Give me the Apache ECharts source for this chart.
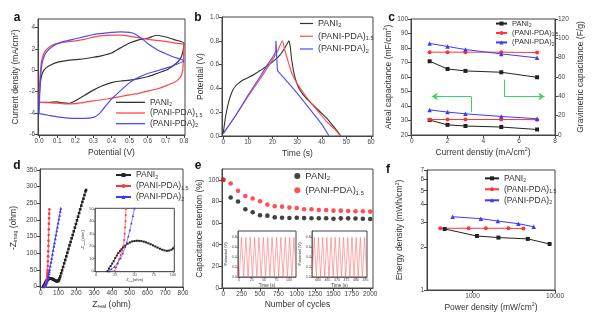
<!DOCTYPE html>
<html>
<head>
<meta charset="utf-8">
<script src="https://cdn.jsdelivr.net/npm/echarts@6/dist/echarts.min.js"></script>
<style>
html,body{margin:0;padding:0;background:#fff;}
#chart{width:594px;height:325px;}
</style>
</head>
<body>
<div id="chart"></div>
<script>
const FONT = '"Liberation Sans", Arial, sans-serif';

// ---- (a) cyclic voltammograms: [potential V, current density mA/cm2]
const cvPani2 = [[0.0,-3.0],[0.003,-1.8],[0.01,-0.8],[0.02,-0.2],[0.04,0.25],[0.07,0.55],[0.1,0.75],[0.15,0.9],[0.2,1.0],[0.25,1.08],[0.3,1.22],[0.35,1.38],[0.4,1.62],[0.45,2.1],[0.5,2.55],[0.55,2.85],[0.6,3.0],[0.65,3.28],[0.7,3.12],[0.75,2.85],[0.8,2.55],
  [0.795,1.8],[0.785,1.25],[0.77,0.85],[0.75,0.55],[0.72,0.2],[0.7,0.0],[0.65,-0.3],[0.6,-0.6],[0.55,-0.78],[0.5,-0.92],[0.45,-1.0],[0.4,-1.15],[0.35,-1.45],[0.3,-1.85],[0.25,-2.35],[0.2,-2.85],[0.17,-3.08],[0.13,-3.05],[0.1,-2.95],[0.05,-3.0],[0.0,-3.0]];
const cvPdaA = [[0.0,-3.0],[0.003,-1.5],[0.008,0.0],[0.015,1.0],[0.03,1.7],[0.05,2.1],[0.08,2.4],[0.1,2.5],[0.15,2.65],[0.2,2.75],[0.25,2.9],[0.3,3.1],[0.35,3.25],[0.4,3.3],[0.45,3.3],[0.5,3.2],[0.55,3.05],[0.6,2.9],[0.65,2.8],[0.7,2.7],[0.75,2.55],[0.8,2.4],
  [0.798,1.2],[0.793,0.0],[0.785,-0.5],[0.77,-0.85],[0.75,-1.1],[0.7,-1.45],[0.65,-1.75],[0.6,-1.95],[0.55,-2.15],[0.5,-2.3],[0.45,-2.45],[0.4,-2.6],[0.35,-2.75],[0.3,-2.85],[0.25,-3.0],[0.2,-3.12],[0.15,-3.15],[0.1,-3.08],[0.05,-3.02],[0.0,-3.0]];
const cvPdaB = [[0.0,-4.05],[0.003,-2.5],[0.008,-0.8],[0.015,0.5],[0.03,1.4],[0.05,1.9],[0.08,2.3],[0.1,2.5],[0.15,2.75],[0.2,2.95],[0.25,3.15],[0.3,3.35],[0.35,3.45],[0.4,3.55],[0.45,3.6],[0.5,3.55],[0.53,3.4],[0.56,3.05],[0.58,2.8],[0.6,2.5],[0.65,1.95],[0.7,1.55],[0.75,1.2],[0.8,0.9],
  [0.75,0.5],[0.7,0.2],[0.65,-0.05],[0.6,-0.3],[0.55,-0.65],[0.5,-1.15],[0.45,-1.9],[0.4,-2.7],[0.36,-3.5],[0.33,-4.1],[0.3,-4.4],[0.25,-4.5],[0.2,-4.5],[0.15,-4.45],[0.1,-4.35],[0.05,-4.2],[0.0,-4.05]];

// ---- (b) galvanostatic charge/discharge: [time s, potential V]
const gcdPani2 = [[0,0.02],[0.5,0.1],[1,0.17],[2,0.27],[3,0.34],[4,0.39],[5,0.42],[6,0.44],[8,0.47],[10,0.49],[12,0.51],[15,0.55],[18,0.59],[21,0.64],[23,0.68],[25,0.74],[26.7,0.8],[27.2,0.75],[27.8,0.64],[28.5,0.55],[29.3,0.48],[30.5,0.41],[32,0.36],[34,0.31],[36,0.27],[38,0.23],[40,0.19],[42,0.15],[44,0.1],[46,0.05],[47.7,0.0]];
const gcdPdaA = [[0,0.02],[2,0.08],[5,0.17],[10,0.33],[15,0.48],[20,0.64],[22,0.71],[24,0.8],[25,0.72],[26,0.65],[27,0.58],[28,0.52],[30,0.44],[32,0.38],[34,0.32],[36,0.27],[38,0.22],[40,0.17],[42,0.12],[44,0.08],[46,0.04],[47.5,0.0]];
const gcdPdaB = [[0,0.02],[2,0.08],[5,0.17],[10,0.34],[15,0.5],[18,0.6],[20.3,0.67],[21.3,0.71],[21.4,0.8],[21.9,0.8],[22.0,0.55],[25,0.48],[30,0.36],[35,0.23],[40,0.1],[43,0.0]];

// ---- (c) rate capability
const currentDensity = [1, 2, 3, 5, 7];
const arealPani2 = [30.3, 27.0, 26.2, 25.5, 23.8];
const arealPdaA = [30.7, 30.7, 30.7, 30.7, 30.6];
const arealPdaB = [37.3, 35.8, 34.6, 32.8, 31.2];
const gravPani2 = [76.3, 68.3, 66.3, 64.9, 59.7];
const gravPdaA = [85.7, 85.7, 85.7, 85.7, 85.3];
const gravPdaB = [94.7, 91.6, 88.4, 83.9, 79.8];
// axis-pointing arrows, in (current density, areal capacitance) units
const arrowShafts = [[[3.31, 35.7], [3.31, 46.6]], [[5.17, 58.2], [5.17, 46.6]]];
const arrowHeads = [[[3.31, 46.6], [1.12, 46.6]], [[5.17, 46.6], [7.41, 46.6]]];

// ---- (d) Nyquist plots: [Z_real ohm, -Z_imag ohm]
const eisPani2 = [[15,0],[17,2],[19,4],[21,6],[23,8],[25,10.5],[27,12.5],[29,14.5],[31,16],[33,17.5],[35,19],[38,20.5],[41,22],[44,23],[47,23.8],[50,24.2],[53,24.4],[56,24.3],[59,24.1],[62,23.7],[65,23.1],[68,22.4],[71,21.6],[74,20.7],[77,19.8],[80,18.9],[83,18],[86,17.2],[89,16.6],[92,16.3],[95,16.5],[98,17.2],[100,18.2],[103,21],[106,25],[110,31],[115,40],[120,49],[126,59],[132,70],[138,80],[144,91],[150,102],[156,113],[162,124],[168,134],[174,145],[180,155],[186,166],[192,177],[198,188],[204,199],[210,210],[216,221],[222,232],[228,243],[234,254],[240,264],[246,275],[252,286],[255,290]];
const eisPdaA = [[24,0],[26,3],[28,6],[30,9.5],[32,13],[34,16.5],[35.5,20],[36.5,25],[37.3,30],[37.9,35],[38.3,40],[38.7,45],[39,50],[39.8,62],[40.6,76],[41.4,91],[42.2,106],[43,122],[43.8,138],[44.6,155],[45.4,172],[46.2,189],[47,205],[47.9,219],[48.8,232]];
const eisPdaB = [[16.8,0],[20,1.5],[24,3.5],[28,6.5],[32,10.5],[35,14.5],[38,19.5],[40,23],[42,28],[44,33],[46,38.5],[48,44.5],[50,50.5],[54,62],[58,73],[62,85],[66,97],[70,109],[74,121],[78,132],[82,144],[86,156],[90,168],[94,179],[98,191],[102,203],[106,214],[110,226],[113,235]];

// ---- (e) cycling stability
const cycleNumber = [0,100,200,300,400,500,600,700,800,900,1000,1100,1200,1300,1400,1500,1600,1700,1800,1900,2000];
const retentionPani2 = [100,83.6,79.9,72.8,70.0,67.2,66.9,65.3,65.0,64.7,65.0,64.6,64.5,64.5,64.5,64.0,64.4,64.4,64.3,64.0,63.8];
const retentionPdaA = [100,96.6,89.8,85.1,82.7,80.2,77.1,75.5,75.2,74.3,74.0,72.8,72.8,72.1,72.1,71.5,71.5,71.2,70.9,70.9,70.6];
// first and last charge/discharge cycles: [time s, potential V]
const cyclesEarly = [[0,0],[4.4,0.8],[8.8,0],[13.2,0.8],[17.6,0],[22,0.8],[26.4,0],[30.8,0.8],[35.2,0],[39.6,0.8],[44,0],[48.4,0.8],[52.8,0],[57.2,0.8],[61.6,0],[66,0.8],[70.4,0],[74.8,0.8],[79.2,0],[83.6,0.8],[88,0],[92.4,0.8],[96.8,0],[101.2,0.8],[105.6,0],[110,0.8],[113.5,0.15]];
const cyclesLate = [[457,0.02],[458.1,0.8],[459.2,0],[460.3,0.8],[461.4,0],[462.5,0.8],[463.6,0],[464.7,0.8],[465.8,0],[466.9,0.8],[468,0],[469.1,0.8],[470.2,0],[471.3,0.8],[472.4,0],[473.5,0.8],[474.6,0],[475.7,0.8],[476.8,0],[477.9,0.8],[479,0],[480.1,0.8],[481.2,0],[482.3,0.8],[483.4,0],[484.5,0.8],[485.6,0.05]];

// ---- (f) Ragone plot
const powerPani2 = [458, 1130, 2060, 4680, 8600];
const energyPani2 = [2.69, 2.40, 2.34, 2.29, 2.11];
const powerPdaA = [406, 895, 1450, 2725, 4140];
const energyPdaA = [2.72, 2.72, 2.72, 2.72, 2.71];
const powerPdaB = [573, 1262, 2023, 3600, 5520];
const energyPdaB = [3.28, 3.18, 3.06, 2.93, 2.79];

// ---- tick values per axis
const ticksAx = [0, 0.1, 0.2, 0.3, 0.4, 0.5, 0.6, 0.7, 0.8];
const ticksAy = [-6, -4, -2, 0, 2, 4];
const ticksBx = [0, 10, 20, 30, 40, 50, 60];
const ticksBy = [0, 0.2, 0.4, 0.6, 0.8, 1.0];
const ticksCx = [0, 2, 4, 6, 8];
const ticksCyl = [20, 30, 40, 50, 60, 70, 80, 90, 100];
const ticksCyr = [0, 20, 40, 60, 80, 100, 120];
const ticksDx = [0, 100, 200, 300, 400, 500, 600, 700, 800];
const ticksDy = [0, 50, 100, 150, 200, 250, 300, 350];
const ticksDinx = [0, 25, 50, 75, 100];
const ticksDiny = [0, 10, 20, 30, 40, 50];
const ticksEx = [0, 250, 500, 750, 1000, 1250, 1500, 1750, 2000];
const ticksEy = [0, 20, 40, 60, 80, 100];
const ticksEin1x = [0, 25, 50, 75, 100];
const ticksEin2x = [460, 465, 470, 475, 480, 485];
const ticksEiny = [0, 0.2, 0.4, 0.6, 0.8];
const ticksFx = [1000, 10000];
const ticksFy = [1, 2, 3, 4, 5, 6, 7];

const BLACK = '#222', RED = '#ff3535', BLUE = '#3b3bff', GREEN = '#3fcf62';
const AXIS_COLOR = '#444', TEXT_COLOR = '#333';

const seriesLabel = {
  pani: '{t|PANI}{s|2}',
  pdaA: '{t|(PANI-PDA)}{s|1.5}',
  pdaB: '{t|(PANI-PDA)}{s|2}'
};

function richSet(size, lh) {
  return {
    t: { fontSize: size, color: TEXT_COLOR, fontFamily: FONT, lineHeight: lh },
    s: { fontSize: size * 0.62, color: TEXT_COLOR, fontFamily: FONT, lineHeight: lh, padding: [size * 0.55, 0, 0, 0] },
    u: { fontSize: size * 0.62, color: TEXT_COLOR, fontFamily: FONT, lineHeight: lh, padding: [0, 0, size * 0.6, 0] }
  };
}

function fixed1(v) { return Number(v).toFixed(1); }
function plain(v) { return String(Math.round(v)); }

function axis(gridIndex, type, min, max, ticks, fmt, o) {
  o = o || {};
  const fs = o.fontSize || 6.5;
  return {
    type: type,
    gridIndex: gridIndex,
    min: min, max: max,
    position: o.position,
    name: o.name || '',
    nameLocation: 'middle',
    nameGap: o.nameGap || 15,
    nameTextStyle: { fontSize: o.nameSize || 8.5, color: TEXT_COLOR, fontFamily: FONT, rich: richSet(o.nameSize || 8.5, (o.nameSize || 8.5) * 1.25) },
    axisLine: { show: true, onZero: false, lineStyle: { color: AXIS_COLOR, width: o.lineWidth || 1 } },
    axisTick: { show: true, inside: false, length: o.tickLen || 3, customValues: ticks, lineStyle: { color: AXIS_COLOR, width: o.lineWidth || 1 } },
    axisLabel: { show: true, customValues: ticks, formatter: fmt, fontSize: fs, color: '#444', fontFamily: FONT, margin: o.margin || 3, hideOverlap: false },
    splitLine: { show: false },
    minorTick: { show: false }
  };
}

function grid(left, top, width, height, bg) {
  return { left: left, top: top, width: width, height: height, containLabel: false, show: true,
           borderColor: AXIS_COLOR, borderWidth: 1, backgroundColor: bg || 'transparent' };
}

const grids = [
  grid(38, 19, 147, 116),        // a
  grid(222, 17, 151, 119),       // b
  grid(411, 19, 144, 116),       // c
  grid(40, 169, 143, 118),       // d
  grid(95, 208.3, 79.3, 63.4, '#fff'), // d inset
  grid(222, 169, 151, 119),      // e
  grid(238, 231, 58, 46, '#fff'),   // e inset, first cycles
  grid(312, 231, 55, 46, '#fff'),   // e inset, last cycles
  grid(427, 170, 128, 120)       // f
];

const xAxes = [
  axis(0, 'value', -0.006, 0.806, ticksAx, fixed1, { name: 'Potential (V)', nameGap: 13 }),
  axis(1, 'value', -0.5, 60.8, ticksBx, plain, { name: 'Time (s)', nameGap: 13 }),
  axis(2, 'value', -0.04, 8, ticksCx, plain, { name: '{t|Current denstiy (mA/cm}{u|2}{t|)}', nameGap: 12 }),
  axis(3, 'value', -4, 800, ticksDx, plain, { name: '{t|Z}{s|real}{t| (ohm)}', nameGap: 12 }),
  axis(4, 'value', -1.3, 101.7, ticksDinx, plain, { name: '{t|Z}{s|real}{t|(ohm)}', nameGap: 5, nameSize: 4, fontSize: 3.8, tickLen: 1.5, margin: 1.5, lineWidth: 0.6 }),
  axis(5, 'value', -18, 2038, ticksEx, plain, { name: 'Number of cycles', nameGap: 12 }),
  axis(6, 'value', -2.6, 114, ticksEin1x, plain, { name: 'Time (s)', nameGap: 4.5, nameSize: 4.5, fontSize: 3.6, tickLen: 1.5, margin: 1.2, lineWidth: 0.6 }),
  axis(7, 'value', 456.9, 485.8, ticksEin2x, plain, { name: 'Time (s)', nameGap: 4.5, nameSize: 4.5, fontSize: 3.6, tickLen: 1.5, margin: 1.2, lineWidth: 0.6 }),
  axis(8, 'log', 280, 10000, ticksFx, plain, { name: '{t|Power density (mW/cm}{u|2}{t|)}', nameGap: 12 })
];

const yAxes = [
  axis(0, 'value', -6.05, 4.8, ticksAy, plain, { name: '{t|Current density (mA/cm}{u|2}{t|)}', nameGap: 17 }),
  axis(1, 'value', 0, 1, ticksBy, fixed1, { name: 'Potential (V)', nameGap: 17 }),
  axis(2, 'value', 20, 100, ticksCyl, plain, { name: '{t|Areal capacitance (mF/cm}{u|2}{t|)}', nameGap: 14 }),
  axis(2, 'value', 0, 120, ticksCyr, plain, { name: 'Gravimetric capacitance (F/g)', nameGap: 21, position: 'right' }),
  axis(3, 'value', -1, 353, ticksDy, plain, { name: '{t|-Z}{s|imag}{t| (ohm)}', nameGap: 21 }),
  axis(4, 'value', -0.5, 50.5, ticksDiny, plain, { name: '{t|-Z}{s|imag}{t|(ohm)}', nameGap: 6, nameSize: 4, fontSize: 3.8, tickLen: 1.5, margin: 1.5, lineWidth: 0.6 }),
  axis(5, 'value', 0, 110, ticksEy, plain, { name: 'Capacitance retention (%)', nameGap: 15 }),
  axis(6, 'value', 0, 0.93, ticksEiny, fixed1, { name: 'Potential (V)', nameGap: 7, nameSize: 4.2, fontSize: 3.6, tickLen: 1.5, margin: 1.2, lineWidth: 0.6 }),
  axis(7, 'value', 0, 0.93, ticksEiny, fixed1, { name: 'Potential (V)', nameGap: 7, nameSize: 4.2, fontSize: 3.6, tickLen: 1.5, margin: 1.2, lineWidth: 0.6 }),
  axis(8, 'log', 1, 7, ticksFy, plain, { name: '{t|Energy density (mWh/cm}{u|2}{t|)}', nameGap: 22 })
];

function zip(xs, ys) { return xs.map(function (x, i) { return [x, ys[i]]; }); }

function curve(name, xi, yi, data, color, width, extra) {
  return Object.assign({
    type: 'line', name: name, xAxisIndex: xi, yAxisIndex: yi, data: data,
    showSymbol: false, symbol: 'none', clip: true, animation: false,
    lineStyle: { color: color, width: width }, itemStyle: { color: color }
  }, extra || {});
}

function marked(name, xi, yi, data, color, symbol, size, width) {
  return {
    type: 'line', name: name, xAxisIndex: xi, yAxisIndex: yi, data: data,
    symbol: symbol, symbolSize: size, showSymbol: true, clip: true, animation: false,
    lineStyle: { color: color, width: width }, itemStyle: { color: color }
  };
}

const series = [
  // (a)
  curve('a-pani', 0, 0, cvPani2, '#333', 1.2, { smooth: 0.2 }),
  curve('a-pdaA', 0, 0, cvPdaA, '#ff4646', 1.2, { smooth: 0.2 }),
  curve('a-pdaB', 0, 0, cvPdaB, '#4a4aff', 1.2, { smooth: 0.2 }),
  // (b)
  curve('b-pani', 1, 1, gcdPani2, '#333', 1.1, { smooth: 0.15 }),
  curve('b-pdaA', 1, 1, gcdPdaA, '#ff4646', 1.1, { smooth: 0.15 }),
  curve('b-pdaB', 1, 1, gcdPdaB, '#4a4aff', 1.1),
  // (c)
  marked('c-pani', 2, 2, zip(currentDensity, arealPani2), BLACK, 'rect', 4, 1),
  marked('c-pdaA', 2, 2, zip(currentDensity, arealPdaA), RED, 'circle', 4, 1),
  marked('c-pdaB', 2, 2, zip(currentDensity, arealPdaB), BLUE, 'triangle', 4.5, 1),
  marked('c-pani', 2, 3, zip(currentDensity, gravPani2), BLACK, 'rect', 4, 1),
  marked('c-pdaA', 2, 3, zip(currentDensity, gravPdaA), RED, 'circle', 4, 1),
  marked('c-pdaB', 2, 3, zip(currentDensity, gravPdaB), BLUE, 'triangle', 4.5, 1),
  {
    type: 'lines', coordinateSystem: 'cartesian2d', xAxisIndex: 2, yAxisIndex: 2, animation: false,
    data: arrowShafts.map(function (c) { return { coords: c }; }),
    symbol: ['none', 'none'], lineStyle: { color: GREEN, width: 1, opacity: 1, curveness: 0 }, silent: true
  },
  {
    type: 'lines', coordinateSystem: 'cartesian2d', xAxisIndex: 2, yAxisIndex: 2, animation: false,
    data: arrowHeads.map(function (c) { return { coords: c }; }),
    symbol: ['none', 'arrow'], symbolSize: 6, lineStyle: { color: GREEN, width: 1, opacity: 1, curveness: 0 }, silent: true
  },
  // (d)
  marked('d-pani', 3, 4, eisPani2, BLACK, 'rect', 2.6, 0.8),
  marked('d-pdaA', 3, 4, eisPdaA, RED, 'circle', 2.6, 0.8),
  marked('d-pdaB', 3, 4, eisPdaB, BLUE, 'triangle', 3, 0.8),
  marked('din-pani', 4, 5, eisPani2, BLACK, 'rect', 2, 0.6),
  marked('din-pdaA', 4, 5, eisPdaA, RED, 'circle', 2, 0.6),
  marked('din-pdaB', 4, 5, eisPdaB, BLUE, 'triangle', 2.3, 0.6),
  // (e)
  { type: 'scatter', name: 'e-pani', xAxisIndex: 5, yAxisIndex: 6, data: zip(cycleNumber, retentionPani2), symbol: 'circle', symbolSize: 4.6, itemStyle: { color: '#111' }, animation: false },
  { type: 'scatter', name: 'e-pdaA', xAxisIndex: 5, yAxisIndex: 6, data: zip(cycleNumber, retentionPdaA), symbol: 'circle', symbolSize: 4.6, itemStyle: { color: '#ff2626' }, animation: false },
  curve('ein-early', 6, 7, cyclesEarly, '#ff6f6f', 0.6),
  curve('ein-late', 7, 8, cyclesLate, '#ff6f6f', 0.6),
  // (f)
  marked('f-pani', 8, 9, zip(powerPani2, energyPani2), BLACK, 'rect', 4, 1),
  marked('f-pdaA', 8, 9, zip(powerPdaA, energyPdaA), RED, 'circle', 4, 1),
  marked('f-pdaB', 8, 9, zip(powerPdaB, energyPdaB), BLUE, 'triangle', 4.5, 1)
];

function legend(prefix, left, top, size, lh, gap, iw, ih, icon) {
  const l = {
    left: left, top: top, orient: 'vertical', padding: 0, itemGap: gap,
    itemWidth: iw, itemHeight: ih, selectedMode: false,
    data: ['pani', 'pdaA', 'pdaB'].filter(function (k) { return !(prefix === 'e' && k === 'pdaB'); })
      .map(function (k) { return prefix + '-' + k; }),
    formatter: function (name) { return seriesLabel[name.split('-')[1]]; },
    textStyle: { fontSize: size, color: TEXT_COLOR, fontFamily: FONT, rich: richSet(size, lh) }
  };
  if (icon) l.icon = icon;
  return l;
}

const legends = [
  legend('a', 116, 97.5, 8.5, 11, 1, 29, 1.3, 'rect'),
  legend('b', 300, 18, 9, 12, 1.8, 13, 1.2, 'rect'),
  legend('c', 495, 19, 7.5, 10, 0.3, 11, 5),
  legend('d', 115, 170.2, 8.5, 11, 1.3, 15, 5),
  legend('e', 294.3, 170.5, 9.5, 12, 3, 6, 6),
  legend('f', 484, 173.5, 8.5, 11, 1.3, 14, 5)
];

function letter(t, x, y) {
  return { type: 'text', x: x, y: y, silent: true,
    style: { text: t, fontSize: 12, fontWeight: 'bold', fill: '#111', fontFamily: FONT, align: 'center', verticalAlign: 'middle' } };
}

const chart = echarts.init(document.getElementById('chart'), null, { renderer: 'canvas' });
chart.setOption({
  backgroundColor: '#fff',
  animation: false,
  grid: grids,
  xAxis: xAxes,
  yAxis: yAxes,
  legend: legends,
  series: series,
  graphic: [
    letter('a', 17, 18), letter('b', 198, 18), letter('c', 391.5, 18),
    letter('d', 17, 166), letter('e', 198, 166), letter('f', 388, 170)
  ]
});
</script>
</body>
</html>
